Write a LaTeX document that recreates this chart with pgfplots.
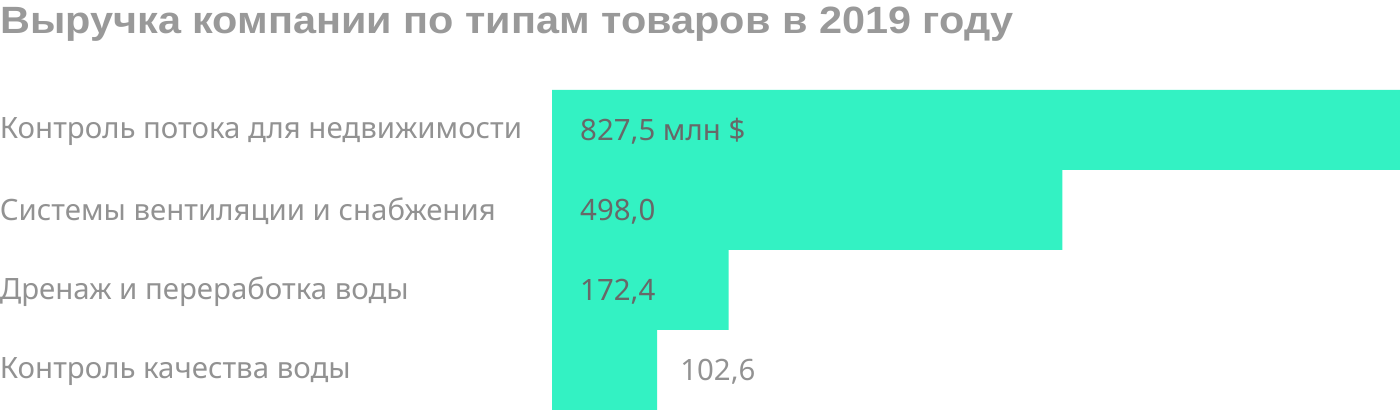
\documentclass[border=0pt]{standalone}
\usepackage{pgfplots}
\pgfplotsset{compat=1.18}
\usepackage{fontspec}
\setmainfont{Noto Sans}
\newfontfamily\titlefont[FakeStretch=1.09]{Liberation Sans Bold}
\definecolor{barc}{HTML}{33F2C3}
\definecolor{intext}{HTML}{686868}
\definecolor{lab}{HTML}{929292}
\definecolor{ttl}{HTML}{999999}
\begin{document}
\begin{tikzpicture}
\path[use as bounding box] (0,0) rectangle (1400pt,412pt);
\node[anchor=base west, inner sep=0pt, text=ttl, font=\titlefont\fontsize{38pt}{40pt}\selectfont] at (0pt,378pt) {Выручка компании по типам товаров в 2019 году};
\begin{axis}[
  at={(552pt,2pt)}, anchor=south west,
  scale only axis, width=848pt, height=320pt,
  xbar, bar width=80pt,
  xmin=0, xmax=827.5, ymin=-0.5, ymax=3.5,
  enlargelimits=false,
  axis line style={draw=none}, tick style={draw=none},
  xtick=\empty,
  ytick={0,1,2,3},
  yticklabels={Контроль качества воды, Дренаж и переработка воды, Системы вентиляции и снабжения, Контроль потока для недвижимости},
  yticklabel style={anchor=west, xshift=-548pt, yshift=-1.5pt, inner sep=0pt, text=lab, font=\fontsize{29.4pt}{32pt}\selectfont},
  clip=false,
]
\addplot[fill=barc, draw=none] coordinates {(102.6,0) (172.4,1) (498.0,2) (827.5,3)};
\node[anchor=west, inner sep=0pt, text=intext, font=\fontsize{29.4pt}{32pt}\selectfont, xshift=28pt, yshift=-1.5pt] at (axis cs:0,3) {827,5 млн \$};
\node[anchor=west, inner sep=0pt, text=intext, font=\fontsize{29.4pt}{32pt}\selectfont, xshift=28pt, yshift=-1.5pt] at (axis cs:0,2) {498,0};
\node[anchor=west, inner sep=0pt, text=intext, font=\fontsize{29.4pt}{32pt}\selectfont, xshift=28pt, yshift=-1.5pt] at (axis cs:0,1) {172,4};
\node[anchor=west, inner sep=0pt, text=lab, font=\fontsize{29.4pt}{32pt}\selectfont, xshift=23pt, yshift=-1.5pt] at (axis cs:102.6,0) {102,6};
\end{axis}
\end{tikzpicture}
\end{document}
